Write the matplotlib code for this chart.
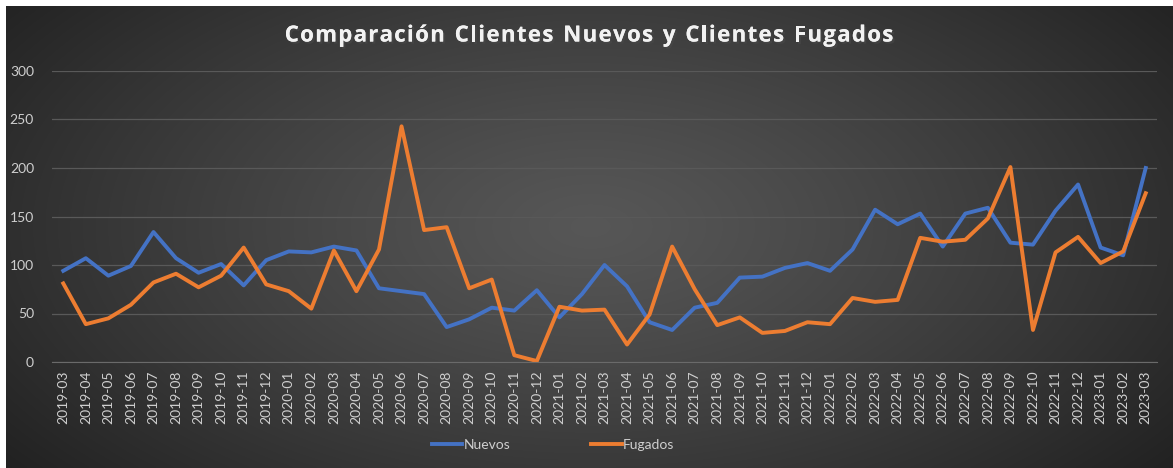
import matplotlib.pyplot as plt
import matplotlib.patheffects as pe
import numpy as np

months = ['2019-03', '2019-04', '2019-05', '2019-06', '2019-07', '2019-08', '2019-09',
          '2019-10', '2019-11', '2019-12', '2020-01', '2020-02', '2020-03', '2020-04',
          '2020-05', '2020-06', '2020-07', '2020-08', '2020-09', '2020-10', '2020-11',
          '2020-12', '2021-01', '2021-02', '2021-03', '2021-04', '2021-05', '2021-06',
          '2021-07', '2021-08', '2021-09', '2021-10', '2021-11', '2021-12', '2022-01',
          '2022-02', '2022-03', '2022-04', '2022-05', '2022-06', '2022-07', '2022-08',
          '2022-09', '2022-10', '2022-11', '2022-12', '2023-01', '2023-02', '2023-03']

nuevos = [94, 107, 89, 99, 134, 107, 92, 101, 79, 105, 114, 113, 119, 115, 76, 73, 70,
          36, 44, 56, 53, 74, 46, 70, 100, 78, 41, 33, 56, 61, 87, 88, 97, 102, 94, 116,
          157, 142, 153, 119, 153, 159, 123, 121, 156, 183, 118, 110, 200]

fugados = [81, 39, 45, 59, 82, 91, 77, 89, 118, 80, 73, 55, 115, 73, 116, 243, 136, 139,
           76, 85, 7, 1, 57, 53, 54, 18, 49, 119, 75, 38, 46, 30, 32, 41, 39, 66, 62, 64,
           128, 124, 126, 148, 201, 33, 113, 129, 102, 114, 174]

titulo = 'Comparación Clientes Nuevos y Clientes Fugados'

W, H = 1173, 468
fig = plt.figure(figsize=(W / 100, H / 100), dpi=100)
fig.patch.set_facecolor('white')

# radial gradient background (dark area starts 6px from left/top)
bg = fig.add_axes([6 / W, 0, (W - 6) / W, (H - 6) / H])
yy, xx = np.mgrid[0:200, 0:500]
cx, cy = 250, 95
r = np.sqrt(((xx - cx) / 320) ** 2 + ((yy - cy) / 170) ** 2)
r = np.clip(r, 0, 1)
light = 0.34 - (0.34 - 0.13) * r ** 1.2
img = np.dstack([light, light, light])
bg.imshow(img, aspect='auto', extent=[0, 1, 0, 1], interpolation='bilinear')
bg.axis('off')

ax = fig.add_axes([52 / W, (H - 362) / H, (1157 - 52) / W, (362 - 71) / H])
ax.patch.set_alpha(0)

x = np.arange(len(months))
ax.plot(x, nuevos, color='#4472C4', lw=2.8, label='Nuevos', solid_joinstyle='round')
ax.plot(x, fugados, color='#ED7D31', lw=2.8, label='Fugados', solid_joinstyle='round')

ax.set_xlim(-0.5, len(months) - 0.5)
ax.set_ylim(0, 300)
ax.set_yticks(range(0, 301, 50))
ax.set_xticks(x)
ax.set_xticklabels(months, rotation=90)
ax.grid(axis='y', color='#595959', lw=0.9)
ax.set_axisbelow(True)
for s in ['top', 'right', 'left']:
    ax.spines[s].set_visible(False)
ax.spines['bottom'].set_color('#6a6a6a')
ax.tick_params(axis='both', length=0, colors='#cfcfcf', labelsize=10)
ax.tick_params(axis='y', pad=13)
ax.tick_params(axis='x', pad=6)
for lab in ax.get_xticklabels() + ax.get_yticklabels():
    lab.set_family('Lato')

# title drawn char by char to get the wide letter spacing
renderer = fig.canvas.get_renderer()
extra = 1.3
props = dict(color='#f2f2f2', fontsize=16, fontweight='bold', family='Open Sans',
             va='center', ha='left')
widths = []
for ch in titulo:
    t = fig.text(0, 0, ch if ch != ' ' else 'i', **props)
    w = t.get_window_extent(renderer).width
    if ch == ' ':
        w = w * 1.05
    widths.append(w)
    t.remove()
total = sum(widths) + extra * (len(titulo) - 1)
xpos = 589 - total / 2
for ch, w in zip(titulo, widths):
    if ch != ' ':
        t = fig.text(xpos / W, (H - 36) / H, ch, **props)
        t.set_path_effects([pe.withSimplePatchShadow(offset=(1.5, -1.5), alpha=0.6),
                            pe.Normal()])
    xpos += w + extra

leg = fig.legend(loc='center', bbox_to_anchor=(553 / W, (H - 445) / H), ncol=2,
                 frameon=False, handlelength=2.2, handletextpad=0.1,
                 columnspacing=5.8, prop={'family': 'Lato', 'size': 10})
for t in leg.get_texts():
    t.set_color('#cfcfcf')

fig.savefig('out.png', dpi=100)
